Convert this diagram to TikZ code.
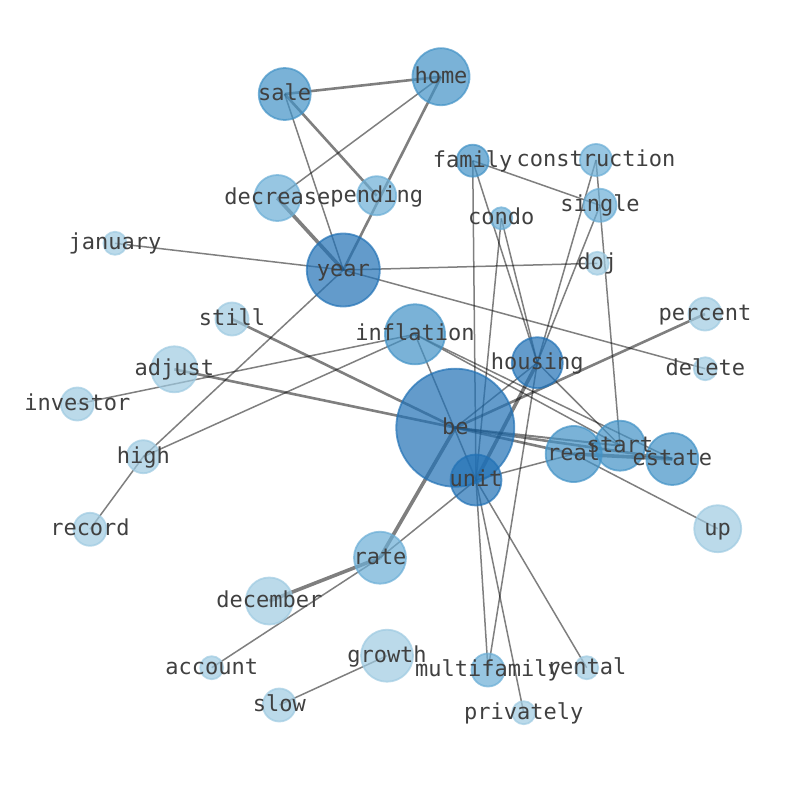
\documentclass[tikz,border=0pt]{standalone}
\usepackage{fontspec}
\setmonofont{DejaVu Sans Mono}
\pgfdeclarelayer{background}
\pgfsetlayers{background,main}
\definecolor{paleblue}{HTML}{9ECAE1}
\definecolor{softblue}{HTML}{6BAED6}
\definecolor{midblue}{HTML}{4292C6}
\definecolor{deepblue}{HTML}{2171B5}

\begin{document}
\begin{tikzpicture}
        [
            x=1pt, y=-1pt,
            word/.style={circle, line width=1.8pt, fill opacity=0.7, draw opacity=0.7, inner sep=0pt},
            pale/.style={word, fill=paleblue, draw=paleblue},
            soft/.style={word, fill=softblue, draw=softblue},
            mid/.style={word, fill=midblue, draw=midblue},
            deep/.style={word, fill=deepblue, draw=deepblue},
            tag/.style={font=\ttfamily\fontsize{22}{26}\selectfont, text=black!75, text height=17pt, text depth=4pt, inner sep=0pt},
            link/.style={draw=black, opacity=0.5, line width=1.5pt},
            heavy/.style={link, line width=2.6pt},
            heavier/.style={link, line width=3.6pt},
        ]
            \useasboundingbox (0,0) rectangle (794,790);

            \node[mid, minimum size=52pt] (sale) at (284.7, 94.0) {};
            \node[mid, minimum size=57pt] (home) at (441.0, 76.7) {};
            \node[soft, minimum size=46pt] (decrease) at (277.3, 198.0) {};
            \node[soft, minimum size=39pt] (pending) at (376.7, 195.7) {};
            \node[deep, minimum size=73pt] (year) at (343.3, 270.0) {};
            \node[mid, minimum size=32pt] (family) at (472.7, 160.7) {};
            \node[soft, minimum size=32pt] (construction) at (596.0, 160.0) {};
            \node[soft, minimum size=33pt] (single) at (600.0, 205.3) {};
            \node[soft, minimum size=22pt] (condo) at (501.3, 218.3) {};
            \node[pale, minimum size=23pt] (doj) at (597.3, 263.3) {};
            \node[pale, minimum size=23pt] (january) at (115.0, 243.3) {};
            \node[pale, minimum size=33pt] (still) at (232.0, 319.0) {};
            \node[mid, minimum size=60pt] (inflation) at (415.0, 334.3) {};
            \node[pale, minimum size=33pt] (percent) at (705.0, 314.0) {};
            \node[deep, minimum size=51pt] (housing) at (537.3, 362.7) {};
            \node[pale, minimum size=23pt] (delete) at (705.3, 368.7) {};
            \node[pale, minimum size=46pt] (adjust) at (174.3, 369.3) {};
            \node[pale, minimum size=33pt] (investor) at (77.3, 404.0) {};
            \node[deep, minimum size=118pt] (be) at (455.3, 427.7) {};
            \node[pale, minimum size=33pt] (high) at (143.3, 456.7) {};
            \node[mid, minimum size=56pt] (real) at (573.7, 454.0) {};
            \node[mid, minimum size=50pt] (start) at (620.0, 445.7) {};
            \node[mid, minimum size=52pt] (estate) at (672.3, 459.0) {};
            \node[deep, minimum size=51pt] (unit) at (476.0, 480.0) {};
            \node[pale, minimum size=47pt] (up) at (717.7, 528.7) {};
            \node[pale, minimum size=33pt] (record) at (90.0, 529.3) {};
            \node[soft, minimum size=52pt] (rate) at (380.0, 557.7) {};
            \node[pale, minimum size=47pt] (december) at (269.3, 601.0) {};
            \node[pale, minimum size=23pt] (account) at (211.7, 667.7) {};
            \node[pale, minimum size=52pt] (growth) at (387.0, 655.7) {};
            \node[soft, minimum size=33pt] (multifamily) at (488.0, 670.0) {};
            \node[pale, minimum size=23pt] (rental) at (586.7, 667.7) {};
            \node[pale, minimum size=33pt] (slow) at (279.3, 705.0) {};
            \node[pale, minimum size=23pt] (privately) at (523.7, 712.7) {};

            \foreach \w in {sale,home,decrease,pending,year,family,construction,single,condo,doj,january,still,inflation,percent,housing,delete,adjust,investor,be,high,real,start,estate,unit,up,record,rate,december,account,growth,multifamily,rental,slow,privately}
                \node[tag] (\w-text) at (\w.center) {\w};

            \begin{pgfonlayer}{background}
            \draw[heavy] (sale.center) -- (home.center);
            \draw[heavy] (sale.center) -- (pending.center);
            \draw[link] (sale.center) -- (year.center);
            \draw[link] (home.center) -- (decrease.center);
            \draw[heavy] (home.center) -- (year.center);
            \draw[heavier] (decrease.center) -- (year.center);
            \draw[link] (january.center) -- (year.center);
            \draw[link] (year.center) -- (doj.center);
            \draw[link] (year.center) -- (delete.center);
            \draw[link] (year.center) -- (high.center);
            \draw[link] (family.center) -- (single.center);
            \draw[link] (family.center) -- (housing.center);
            \draw[link] (family.center) -- (unit.center);
            \draw[link] (condo.center) -- (housing.center);
            \draw[link] (condo.center) -- (unit.center);
            \draw[link] (construction.center) -- (housing.center);
            \draw[link] (construction.center) -- (start.center);
            \draw[link] (single.center) -- (housing.center);
            \draw[heavier] (housing.center) -- (unit.center);
            \draw[link] (housing.center) -- (be.center);
            \draw[link] (housing.center) -- (start.center);
            \draw[link] (housing.center) -- (multifamily.center);
            \draw[heavy] (be.center) -- (percent.center);
            \draw[heavy] (be.center) -- (still.center);
            \draw[heavy] (be.center) -- (adjust.center);
            \draw[heavier] (be.center) -- (rate.center);
            \draw[heavy] (be.center) -- (real.center);
            \draw[link, line width=2pt] (be.center) -- (start.center);
            \draw[heavy] (be.center) -- (estate.center);
            \draw[heavier] (real.center) -- (estate.center);
            \draw[link] (real.center) -- (up.center);
            \draw[link] (unit.center) -- (real.center);
            \draw[link] (unit.center) -- (rate.center);
            \draw[link] (unit.center) -- (multifamily.center);
            \draw[link] (unit.center) -- (privately.center);
            \draw[link] (unit.center) -- (rental.center);
            \draw[link] (inflation.center) -- (investor.center);
            \draw[link] (inflation.center) -- (high.center);
            \draw[link] (inflation.center) -- (unit.center);
            \draw[link] (inflation.center) -- (start.center);
            \draw[link] (inflation.center) -- (estate.center);
            \draw[link] (high.center) -- (record.center);
            \draw[heavier] (rate.center) -- (december.center);
            \draw[link] (rate.center) -- (account.center);
            \draw[link] (growth.center) -- (slow.center);
            \end{pgfonlayer}
        \end{tikzpicture}
\end{document}
